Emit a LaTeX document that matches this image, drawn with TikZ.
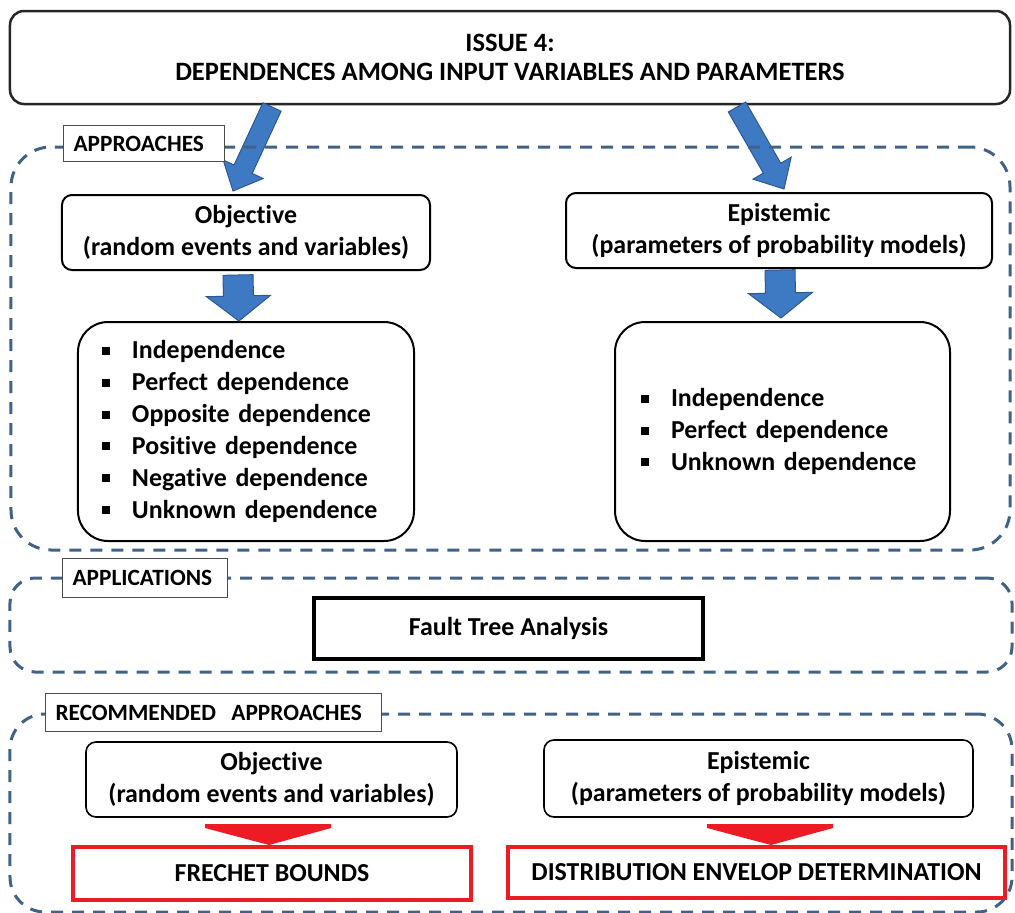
\documentclass[tikz,border=0pt]{standalone}
\usepackage{fontspec}
\setmainfont{Carlito}[Ligatures=NoCommon]
\usetikzlibrary{calc}
\definecolor{frameblue}{RGB}{64,98,134}
\definecolor{arrowblue}{RGB}{62,122,196}
\definecolor{arrowedge}{RGB}{44,88,145}
\definecolor{boundred}{RGB}{237,28,36}
\tikzstyle{titlebox}=[draw=black!85,line width=2.5bp,rounded corners=14bp,align=center,inner sep=0pt,font=\fontsize{26.6}{29.5}\selectfont\bfseries]
\tikzstyle{group}=[draw=frameblue,line width=3bp,dash pattern=on 12bp off 9bp,inner sep=0pt]
\tikzstyle{tag}=[draw=black!70,line width=1.2bp,fill=white,anchor=north west,align=left,inner xsep=10bp,inner ysep=0pt,font=\fontsize{23.4}{26}\selectfont\bfseries]
\tikzstyle{category}=[draw=black,line width=2bp,rounded corners=10bp,align=center,inner sep=0pt,font=\fontsize{26}{32}\selectfont\bfseries]
\tikzstyle{itemlist}=[draw=black,line width=2bp,rounded corners=30bp,align=left,inner ysep=0pt,font=\fontsize{26}{32}\selectfont\bfseries]
\tikzstyle{fta}=[draw=black,line width=4bp,inner sep=0pt,font=\fontsize{26}{32}\selectfont\bfseries]
\tikzstyle{bound}=[draw=boundred,line width=3.5bp,inner sep=0pt,font=\fontsize{26}{32}\selectfont\bfseries]
\tikzstyle{blockarrow}=[fill=arrowblue,draw=arrowedge,line width=1bp,line join=miter]
\tikzstyle{redhead}=[fill=boundred,line join=round]
\newcommand\bul{\makebox[30bp][l]{\rule[4bp]{8bp}{8bp}}}
% shaft half width, head half width, head length, from, to
\newcommand\blockarrow[5]{%
  \filldraw[blockarrow] ($(#4)!#1!90:(#5)$)
    -- ($(#5)!#3!(#4)!#1!-90:(#4)$) -- ($(#5)!#3!(#4)!#2!-90:(#4)$)
    -- (#5)
    -- ($(#5)!#3!(#4)!#2!90:(#4)$) -- ($(#5)!#3!(#4)!#1!90:(#4)$)
    -- ($(#4)!#1!-90:(#5)$) -- cycle;}
\newcommand\redhead[2]{%
  \fill[redhead] ($(#1)+(-63,0)$) -- ($(#1)+(63,0)$) -- ($(#1)+(63,4)$) -- (#2) -- ($(#1)+(-63,4)$) -- cycle;}

\begin{document}
\begin{tikzpicture}[x=1bp,y=-1bp]
    \useasboundingbox (0,0) rectangle (1015,913);
    % issue box
    \node[titlebox,minimum width=1000bp,minimum height=93bp] (issue) at (510,57.5)
        {ISSUE 4:\\DEPENDENCES AMONG INPUT VARIABLES AND PARAMETERS};

    % approaches
    \node[category,minimum width=368bp,minimum height=75bp] (objA) at (246,232.5)
        {Objective\\(random events and variables)};
    \node[category,minimum width=426bp,minimum height=75bp] (epiA) at (779,230.5)
        {Epistemic\\(parameters of probability models)};
    \node[itemlist,text width=288bp,inner xsep=24bp,minimum height=219bp] (listA) at (246,431.5)
        {\bul Independence\\ \bul Perfect dependence\\ \bul Opposite dependence\\
         \bul Positive dependence\\ \bul Negative dependence\\ \bul Unknown dependence};
    \node[itemlist,text width=283bp,inner xsep=26bp,minimum height=219bp] (listB) at (782.5,431.5)
        {\bul Independence\\ \bul Perfect dependence\\ \bul Unknown dependence};

    % block arrows
    \coordinate (i1) at (272,107);
    \coordinate (o1) at (233,191);
    \coordinate (i2) at (737,107);
    \coordinate (e1) at (784,189);
    \coordinate (o2) at (238,275);
    \coordinate (l1) at (239,321);
    \coordinate (e2) at (780,270);
    \coordinate (l2) at (781,318);
    \blockarrow{10bp}{22bp}{24bp}{i1}{o1}
    \blockarrow{10bp}{22bp}{24bp}{i2}{e1}
    \blockarrow{15bp}{32bp}{25bp}{o2}{l1}
    \blockarrow{15bp}{32bp}{25bp}{e2}{l2}

    % applications
    \node[fta,minimum width=389bp,minimum height=61bp] (fault) at (508.5,628.5) {Fault Tree Analysis};

    % recommended approaches
    \node[category,line width=1.6bp,minimum width=371bp,minimum height=75bp] (objB) at (271.5,779.5)
        {Objective\\(random events and variables)};
    \node[category,line width=1.6bp,minimum width=429bp,minimum height=77bp] (epiB) at (758.5,778.5)
        {Epistemic\\(parameters of probability models)};
    \node[bound,minimum width=398bp,minimum height=53bp] (frechet) at (272,873.5) {FRECHET BOUNDS};
    \node[bound,minimum width=497bp,minimum height=51bp] (envelop) at (756.5,872.5) {DISTRIBUTION ENVELOP DETERMINATION};
    \coordinate (o3) at (268,824);
    \coordinate (f1) at (269,845);
    \coordinate (e3) at (770,824);
    \coordinate (d1) at (771,845);
    \redhead{o3}{f1}
    \redhead{e3}{d1}

    % dashed groups
    \node[group,rounded corners=40bp,minimum width=999bp,minimum height=403bp] (grpA) at (510.5,348.5) {};
    \node[group,rounded corners=25bp,minimum width=1002bp,minimum height=94bp] (grpU) at (511,625) {};
    \node[group,rounded corners=35bp,minimum width=1002bp,minimum height=198bp] (grpR) at (511,813) {};
    \node[tag,text width=141bp,minimum height=36bp] (tagA) at (63,125) {APPROACHES};
    \node[tag,text width=145bp,minimum height=39bp] (tagU) at (62,558) {APPLICATIONS};
    \node[tag,text width=316bp,minimum height=38bp] (tagR) at (45,693) {RECOMMENDED\ \ APPROACHES};
\end{tikzpicture}
\end{document}
